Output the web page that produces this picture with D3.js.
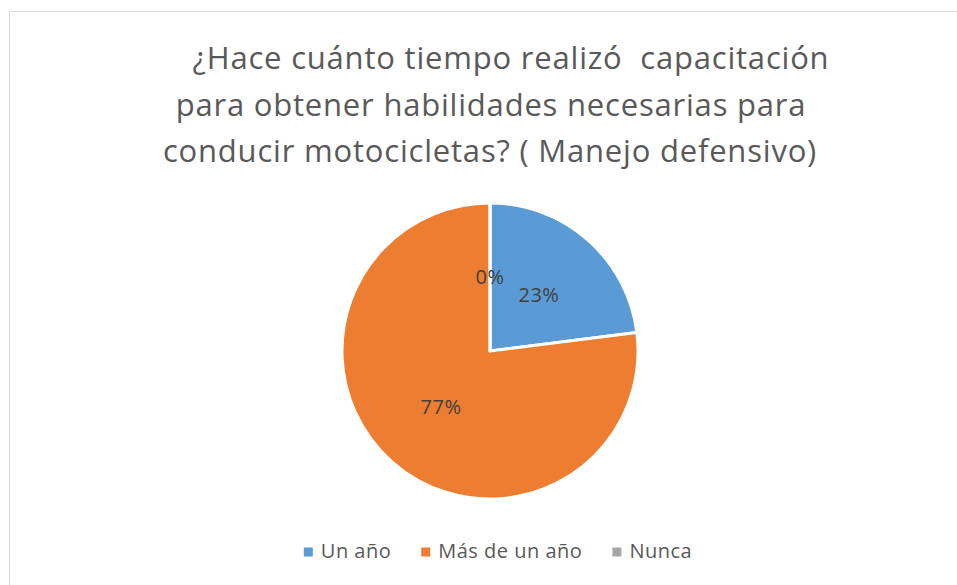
<!DOCTYPE html>
<html>
<head>
<meta charset="utf-8">
<script src="https://cdn.jsdelivr.net/npm/d3@7"></script>
<style>
  body { margin: 0; background: #fff; }
  text { font-family: "Open Sans", "Noto Sans", sans-serif; }
</style>
</head>
<body>
<div class="chart"></div>
<script>
var svgWidth = 957;
var svgHeight = 585;

// data
var categories = ["Un año", "Más de un año", "Nunca"];
var values = [23, 77, 0];
var colors = ["#5B9BD5", "#ED7D31", "#A5A5A5"];
var titleLines = [
  "¿Hace cuánto tiempo realizó  capacitación",
  "para obtener habilidades necesarias para",
  "conducir motocicletas? ( Manejo defensivo)"
];

var svg = d3.select(".chart")
  .append("svg")
  .attr("width", svgWidth)
  .attr("height", svgHeight);

// chart border (runs off the right and bottom edges)
svg.append("rect")
  .attr("x", 9.5)
  .attr("y", 11.5)
  .attr("width", 1000)
  .attr("height", 1000)
  .attr("fill", "none")
  .attr("stroke", "#D9D9D9")
  .attr("stroke-width", 1);

// title
var titleX = [511, 491, 490];
svg.append("g").selectAll("text")
  .data(titleLines)
  .enter()
  .append("text")
  .attr("x", (d, i) => titleX[i])
  .attr("y", (d, i) => 69 + i * 46.5)
  .attr("text-anchor", "middle")
  .style("white-space", "pre")
  .style("letter-spacing", "0.8px")
  .attr("font-size", "31px")
  .attr("fill", "#595959")
  .text(d => d);

// pie
var cx = 490, cy = 351, radius = 148;
var pie = d3.pie().sort(null).value(d => d);
var arcs = pie(values);
var arc = d3.arc().innerRadius(0).outerRadius(radius);
var labelArc = d3.arc().innerRadius(radius * 0.5).outerRadius(radius * 0.5);

var pieGroup = svg.append("g")
  .attr("transform", `translate(${cx}, ${cy})`);

pieGroup.selectAll("path")
  .data(arcs)
  .enter()
  .append("path")
  .attr("d", arc)
  .attr("fill", (d, i) => colors[i])
  .attr("stroke", "#fff")
  .attr("stroke-width", 3)
  .attr("stroke-linejoin", "round");

pieGroup.selectAll(".slice-label")
  .data(arcs)
  .enter()
  .append("text")
  .attr("class", "slice-label")
  .attr("transform", d => `translate(${labelArc.centroid(d)})`)
  .attr("dy", "0.35em")
  .attr("text-anchor", "middle")
  .attr("font-size", "20px")
  .style("letter-spacing", "0.5px")
  .attr("fill", "#404040")
  .text(d => Math.round(d.data) + "%");

// legend
var legend = svg.append("g");
var items = legend.selectAll("g")
  .data(categories)
  .enter()
  .append("g");

items.append("rect")
  .attr("width", 9)
  .attr("height", 9)
  .attr("y", -3.5)
  .attr("fill", (d, i) => colors[i]);

items.append("text")
  .attr("x", 17)
  .attr("dy", "0.35em")
  .attr("font-size", "20px")
  .style("letter-spacing", "0.5px")
  .attr("fill", "#595959")
  .text(d => d);

// lay out legend items horizontally, centred
var offsets = [];
var xPos = 0;
items.each(function(d, i) {
  var w = 17 + d3.select(this).select("text").node().getComputedTextLength();
  offsets.push(xPos);
  xPos += w + 30;
});
var totalW = xPos - 30;
var startX = 498 - totalW / 2;
items.attr("transform", (d, i) => `translate(${startX + offsets[i]}, 551)`);
</script>
</body>
</html>
